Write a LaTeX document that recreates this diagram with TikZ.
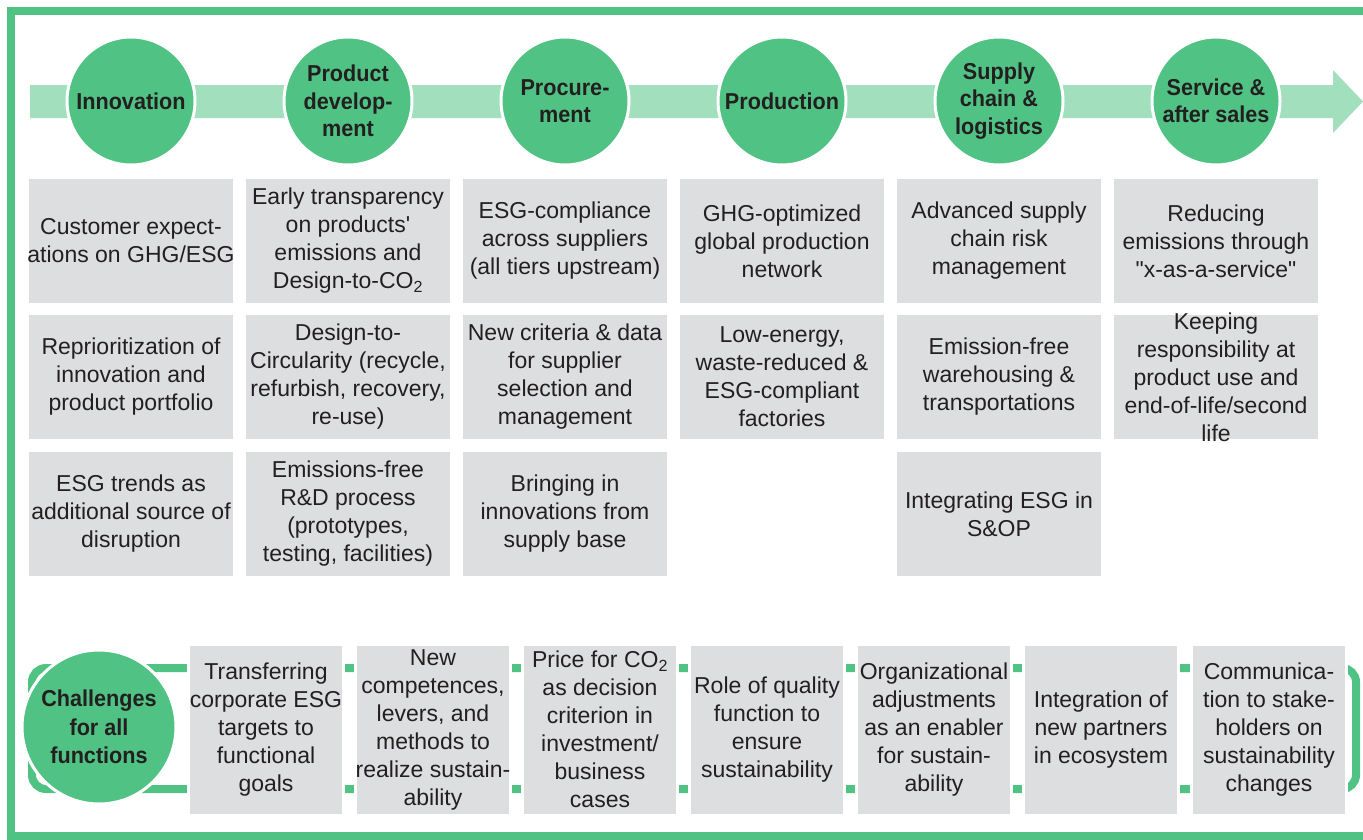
\documentclass[tikz,border=0pt]{standalone}
\usepackage{fontspec}
\newfontfamily\bodyfont{Liberation Sans}
\newfontfamily\headfont{Liberation Sans}[FakeStretch=0.94]
\definecolor{stagegreen}{HTML}{50C384}
\definecolor{bandgreen}{HTML}{A2DFBD}
\definecolor{cellgrey}{HTML}{DDDEDF}
\definecolor{inkdark}{HTML}{231F20}
\tikzset{
  stage/.style={circle, fill=stagegreen, draw=white, line width=3pt, inner sep=0pt,
    minimum size=128pt, align=center, text=inkdark,
    font=\headfont\bfseries\fontsize{23}{27.5}\selectfont},
  bigstage/.style={stage, minimum size=154pt, font=\headfont\bfseries\fontsize{23}{28.5}\selectfont},
  cell/.style={rectangle, fill=cellgrey, draw=white, line width=1.5pt, inner sep=0pt,
    minimum width=205pt, minimum height=125pt},
  lowcell/.style={cell, minimum width=155pt, minimum height=171pt, line width=3pt},
  celltext/.style={inner sep=0pt, align=center, text=inkdark,
    font=\bodyfont\fontsize{23}{28}\selectfont},
}
\begin{document}
\begin{tikzpicture}[x=1pt, y=-1pt]
\useasboundingbox (0,0) rectangle (1363,839);
\fill[white] (0,0) rectangle (1363,839);

% outer frame (open to the right)
\draw[stagegreen, line width=7.5pt] (1390,11) -- (11,11) -- (11,836) -- (1390,836);

% process band with arrow head
\fill[bandgreen] (30,85) -- (1333,85) -- (1333,70) -- (1363,101.5) -- (1333,133)
  -- (1333,118) -- (30,118) -- cycle;

% value chain stages
\node[stage] (s1) at (131,101) {Innovation};
\node[stage] (s2) at (348,101) {Product\\develop-\\ment};
\node[stage] (s3) at (565,101) {Procure-\\ment};
\node[stage] (s4) at (782,101) {Production};
\node[stage] (s5) at (999,101) {Supply\\chain \&\\logistics};
\node[stage] (s6) at (1216,101) {Service \&\\after sales};

% column 1: Innovation
\node[cell] (c11) at (131,241) {};
\node[celltext] (t11) at (c11) {Customer expect-\\ations on GHG/ESG};
\node[cell] (c12) at (131,377) {};
\node[celltext] (t12) at (c12) {Reprioritization of\\innovation and\\product portfolio};
\node[cell] (c13) at (131,514) {};
\node[celltext] (t13) at (c13) {ESG trends as\\additional source of\\disruption};

% column 2: Product development
\node[cell] (c21) at (348,241) {};
\node[celltext] (t21) at (c21) {Early transparency\\on products'\\emissions and\\Design-to-CO\textsubscript{2}};
\node[cell] (c22) at (348,377) {};
\node[celltext] (t22) at (c22) {Design-to-\\Circularity (recycle,\\refurbish, recovery,\\re-use)};
\node[cell] (c23) at (348,514) {};
\node[celltext] (t23) at (c23) {Emissions-free\\R\&D process\\(prototypes,\\testing, facilities)};

% column 3: Procurement
\node[cell] (c31) at (565,241) {};
\node[celltext] (t31) at (c31) {ESG-compliance\\across suppliers\\(all tiers upstream)};
\node[cell] (c32) at (565,377) {};
\node[celltext] (t32) at (c32) {New criteria \& data\\for supplier\\selection and\\management};
\node[cell] (c33) at (565,514) {};
\node[celltext] (t33) at (c33) {Bringing in\\innovations from\\supply base};

% column 4: Production
\node[cell] (c41) at (782,241) {};
\node[celltext] (t41) at (c41) {GHG-optimized\\global production\\network};
\node[cell] (c42) at (782,377) {};
\node[celltext] (t42) at (c42) {Low-energy,\\waste-reduced \&\\ESG-compliant\\factories};

% column 5: Supply chain & logistics
\node[cell] (c51) at (999,241) {};
\node[celltext] (t51) at (c51) {Advanced supply\\chain risk\\management};
\node[cell] (c52) at (999,377) {};
\node[celltext] (t52) at (c52) {Emission-free\\warehousing \&\\transportations};
\node[cell] (c53) at (999,514) {};
\node[celltext] (t53) at (c53) {Integrating ESG in\\S\&OP};

% column 6: Service & after sales
\node[cell] (c61) at (1216,241) {};
\node[celltext] (t61) at (c61) {Reducing\\emissions through\\"x-as-a-service"};
\node[cell] (c62) at (1216,377) {};
\node[celltext] (t62) at (c62) {Keeping\\responsibility at\\product use and\\end-of-life/second\\life};

% cross-functional challenges
\draw[stagegreen, line width=8pt, rounded corners=14pt] (32,668) rectangle (1356,789);
\node[bigstage] (ch) at (99,727) {Challenges\\for all\\functions};

\node[lowcell] (d1) at (266,729.5) {};
\node[celltext] (u1) at (d1) {Transferring\\corporate ESG\\targets to\\functional\\goals};
\node[lowcell] (d2) at (433,729.5) {};
\node[celltext] (u2) at (d2) {New\\competences,\\levers, and\\methods to\\realize sustain-\\ability};
\node[lowcell] (d3) at (600,729.5) {};
\node[celltext] (u3) at (d3) {Price for CO\textsubscript{2}\\as decision\\criterion in\\investment/\\business\\cases};
\node[lowcell] (d4) at (767,729.5) {};
\node[celltext] (u4) at (d4) {Role of quality\\function to\\ensure\\sustainability};
\node[lowcell] (d5) at (934,729.5) {};
\node[celltext] (u5) at (d5) {Organizational\\adjustments\\as an enabler\\for sustain-\\ability};
\node[lowcell] (d6) at (1101,729.5) {};
\node[celltext] (u6) at (d6) {Integration of\\new partners\\in ecosystem};
\node[lowcell] (d7) at (1269,729.5) {};
\node[celltext] (u7) at (d7) {Communica-\\tion to stake-\\holders on\\sustainability\\changes};
\end{tikzpicture}
\end{document}
